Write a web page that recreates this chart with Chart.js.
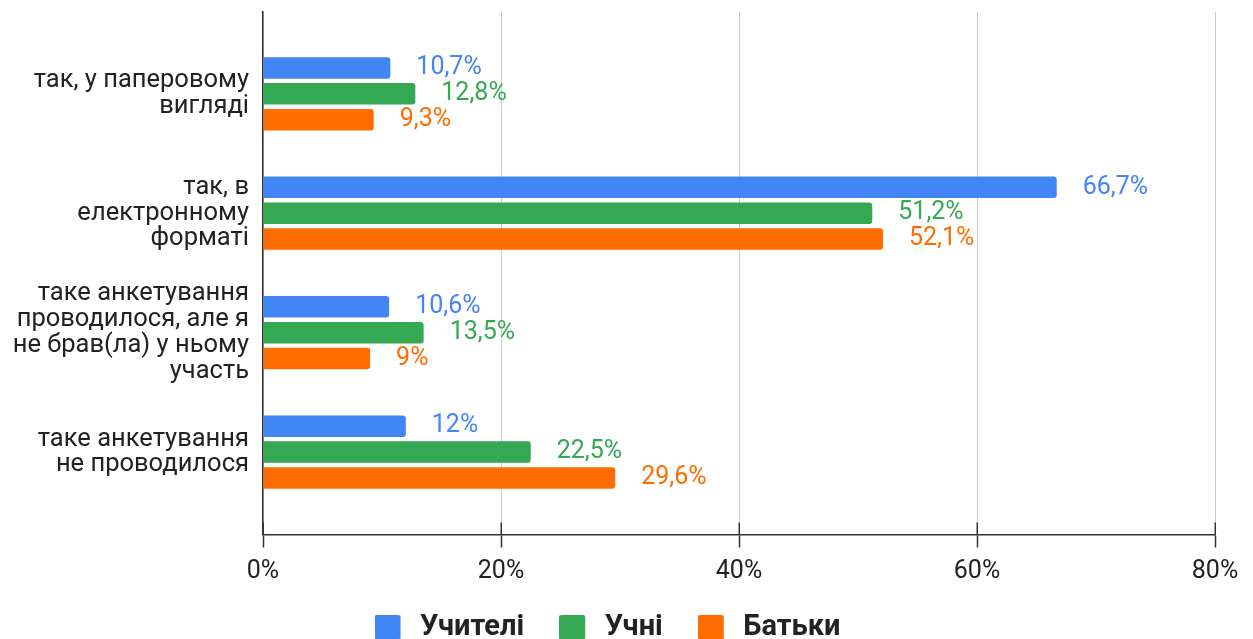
<!DOCTYPE html>
<html>
<head>
<meta charset="utf-8">
<script src="https://cdn.jsdelivr.net/npm/chart.js@4"></script>
<style>
  html, body { margin: 0; padding: 0; background: #fff; overflow: hidden; width: 1253px; height: 639px; }
  canvas { display: block; }
</style>
</head>
<body>
<canvas id="c" width="1253" height="652"></canvas>
<script>
// ---- data ----
const CATEGORIES = [
  ["так, у паперовому", "вигляді"],
  ["так, в", "електронному", "форматі"],
  ["таке анкетування", "проводилося, але я", "не брав(ла) у ньому", "участь"],
  ["таке анкетування", "не проводилося"]
];
const SERIES_NAMES = ["Учителі", "Учні", "Батьки"];
const TEACHERS = [10.7, 66.7, 10.6, 12];
const STUDENTS = [12.8, 51.2, 13.5, 22.5];
const PARENTS  = [9.3, 52.1, 9, 29.6];
const X_TICKS = [0, 20, 40, 60, 80];
const COLORS = ["#4285F4", "#34A853", "#FF6D01"];

const SERIES = [TEACHERS, STUDENTS, PARENTS];
const FONT = "Roboto";

function toPoints(arr) { return arr.map((v, i) => ({ x: v, y: i })); }

// legend icons: square at left part of a wider transparent image
const LEGEND_ICONS = COLORS.map(c => {
  const cv = document.createElement('canvas');
  cv.width = 31; cv.height = 26;
  const g = cv.getContext('2d');
  g.fillStyle = c;
  g.beginPath();
  g.roundRect(0, 0, 26, 26, 3);
  g.fill();
  return cv;
});

const fmt = v => String(v).replace('.', ',') + '%';

const helperPlugin = {
  id: 'helper',
  afterDatasetsDraw(chart) {
    const ctx = chart.ctx;
    ctx.save();
    ctx.font = `25px ${FONT}`;
    ctx.textBaseline = 'middle';
    ctx.textAlign = 'left';
    chart.data.datasets.forEach((ds, di) => {
      const meta = chart.getDatasetMeta(di);
      meta.data.forEach((bar, i) => {
        ctx.fillStyle = COLORS[di];
        ctx.fillText(fmt(ds.data[i].x), bar.x + 26, bar.y);
      });
    });
    ctx.restore();
  },
  afterDraw(chart) {
    const ctx = chart.ctx;
    const xs = chart.scales.x;
    const b = chart.chartArea.bottom;
    ctx.save();
    ctx.strokeStyle = '#333';
    ctx.lineWidth = 1.5;
    xs.ticks.forEach((t, i) => {
      const px = Math.round(xs.getPixelForTick(i)) + 0.25;
      ctx.beginPath();
      ctx.moveTo(px, b - 12);
      ctx.lineTo(px, b);
      ctx.stroke();
    });
    ctx.restore();
  }
};

new Chart(document.getElementById('c'), {
  type: 'bar',
  data: {
    datasets: SERIES.map((s, i) => ({
      label: SERIES_NAMES[i],
      data: toPoints(s),
      backgroundColor: COLORS[i],
      borderRadius: 3,
      borderSkipped: 'start',
      categoryPercentage: 0.65,
      barPercentage: 0.83
    }))
  },
  options: {
    indexAxis: 'y',
    responsive: false,
    animation: false,
    layout: { padding: { top: 12, right: 38, left: 0, bottom: 0 } },
    scales: {
      x: {
        type: 'linear',
        position: 'bottom',
        min: 0, max: 80,
        offset: false,
        afterBuildTicks: s => { s.ticks = X_TICKS.map(v => ({ value: v })); },
        afterFit: s => { s.paddingLeft = 0; s.paddingRight = 0; s.height = 43.5; },
        ticks: {
          callback: v => v + '%',
          font: { family: FONT, size: 25 },
          color: '#222',
          padding: 9,
          maxRotation: 0
        },
        grid: { color: '#ccc', lineWidth: 1, drawTicks: true, tickLength: 13, tickColor: '#333', tickWidth: 1.5, offset: false },
        border: { display: true, color: '#333', width: 1.5 }
      },
      y: {
        type: 'linear',
        position: 'left',
        reverse: true,
        offset: false,
        min: -0.685, max: 3.69,
        afterBuildTicks: s => { s.ticks = CATEGORIES.map((_, i) => ({ value: i })); },
        afterFit: s => { s.width = 263; s.paddingTop = 0; s.paddingBottom = 0; },
        ticks: {
          callback: v => CATEGORIES[v],
          font: { family: FONT, size: 25.5, lineHeight: 1.01 },
          color: '#222',
          padding: 14,
          autoSkip: false
        },
        grid: { display: false, drawTicks: false, offset: false },
        border: { display: true, color: '#333', width: 1.5 }
      }
    },
    plugins: {
      tooltip: { enabled: false },
      legend: {
        position: 'bottom',
        labels: {
          usePointStyle: true,
          pointStyleWidth: 31,
          padding: 35,
          color: '#222',
          font: { family: FONT, size: 29, weight: 'bold' },
          generateLabels: chart => {
            const items = Chart.defaults.plugins.legend.labels.generateLabels(chart);
            items.forEach((it, i) => { it.pointStyle = LEGEND_ICONS[i]; });
            return items;
          }
        }
      }
    }
  },
  plugins: [helperPlugin]
});
</script>
</body>
</html>
